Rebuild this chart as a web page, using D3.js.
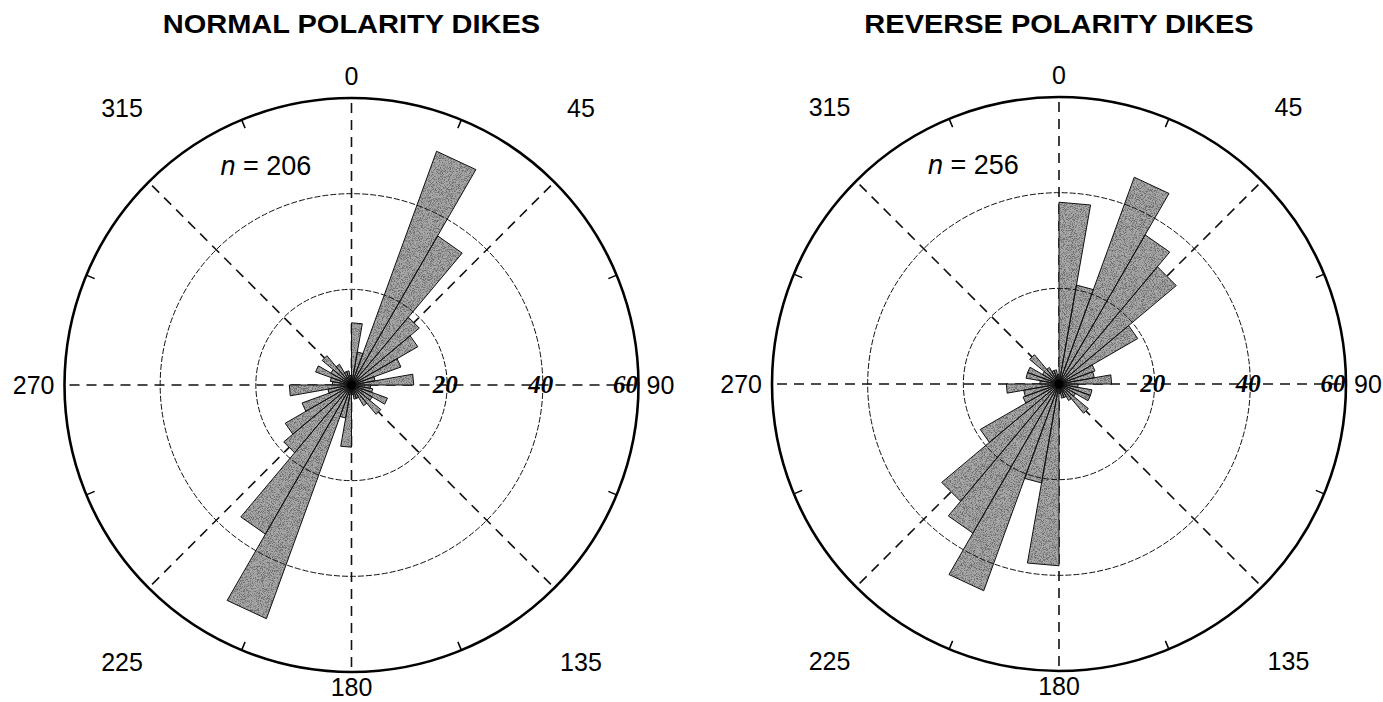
<!DOCTYPE html>
<html>
<head>
<meta charset="utf-8">
<script src="https://cdn.jsdelivr.net/npm/d3@7"></script>
<style>
  html, body { margin: 0; padding: 0; background: #fff; }
  svg { display: block; }
</style>
</head>
<body>
<svg id="chart" width="1383" height="702">
  <defs>
    <!-- fine speckle used to give the petals a stippled grey look -->
    <filter id="speckle" x="0" y="0" width="1" height="1">
      <feTurbulence type="fractalNoise" baseFrequency="1.1" numOctaves="2" seed="7" result="noise"/>
      <feColorMatrix in="noise" type="matrix"
        values="0 0 0 0 0  0 0 0 0 0  0 0 0 0 0  5 0 0 0 -2.3" result="dots"/>
      <feComposite in="dots" in2="SourceAlpha" operator="in"/>
    </filter>
  </defs>
</svg>
<script>
// Dike strikes in 10° bins from 0 to 180. Strikes are axial, so every bin
// is drawn twice: at its own azimuth and at the azimuth + 180°.
const binStarts = d3.range(0, 180, 10);
const binWidth = 10;
const normalCounts  = [13, 7, 52, 36, 18.5, 16, 11, 5, 13, 4, 4.5, 8, 5, 8, 5, 3, 3, 2];
const reverseCounts = [38, 21, 46, 36, 32, 19, 8, 7.5, 11, 4, 7, 7, 4, 8, 4, 3, 3, 2];

const panelTitles = ["NORMAL POLARITY DIKES", "REVERSE POLARITY DIKES"];
const sampleSizes = [206, 256];
const panelCounts = [normalCounts, reverseCounts];

const ringValues = [20, 40, 60];
const compassAngles = [0, 45, 90, 135, 180, 225, 270, 315];
const tickAngles = [22.5, 67.5, 112.5, 157.5, 202.5, 247.5, 292.5, 337.5];

// ---- layout ----
const centers = [[351.5, 385], [1059, 384]];
const R = 287;
const rScale = d3.scaleLinear().domain([0, 60]).range([0, R]);
const rad = d => d * Math.PI / 180;

const svg = d3.select("#chart");

const radial = d3.lineRadial()
  .angle(d => rad(d[0]))
  .radius(d => d[1]);

panelCounts.forEach((counts, i) => {
  const [cx, cy] = centers[i];
  const g = svg.append("g").attr("transform", `translate(${cx},${cy})`);

  // dashed spokes every 45°
  g.append("g").selectAll("path")
    .data(compassAngles)
    .join("path")
    .attr("d", a => radial([[a, 0], [a, R]]))
    .attr("fill", "none")
    .attr("stroke", "#111")
    .attr("stroke-width", 1.6)
    .attr("stroke-dasharray", "10,7");

  // petals: each bin and its antipode
  const petals = [];
  binStarts.forEach((b, k) => {
    petals.push({ a0: b, a1: b + binWidth, v: counts[k] });
    petals.push({ a0: b + 180, a1: b + 180 + binWidth, v: counts[k] });
  });
  const petalPath = p => radial([[p.a0, 0], [p.a0, rScale(p.v)], [p.a1, rScale(p.v)]]) + "Z";

  const petalG = g.append("g");
  petalG.selectAll("path.fill")
    .data(petals)
    .join("path")
    .attr("class", "fill")
    .attr("d", petalPath)
    .attr("fill", "#a8a8a8")
    .attr("stroke", "none");
  petalG.append("g")
    .attr("filter", "url(#speckle)")
    .attr("opacity", 0.35)
    .selectAll("path")
    .data(petals)
    .join("path")
    .attr("d", petalPath)
    .attr("fill", "#000");
  petalG.selectAll("path.edge")
    .data(petals)
    .join("path")
    .attr("class", "edge")
    .attr("d", petalPath)
    .attr("fill", "none")
    .attr("stroke", "#111")
    .attr("stroke-width", 1);

  // inner reference rings
  g.append("g").selectAll("circle")
    .data(ringValues.slice(0, -1))
    .join("circle")
    .attr("r", v => rScale(v))
    .attr("fill", "none")
    .attr("stroke", "#111")
    .attr("stroke-width", 1)
    .attr("stroke-dasharray", "6,2");

  // outer ring
  g.append("circle")
    .attr("r", rScale(ringValues[ringValues.length - 1]))
    .attr("fill", "none")
    .attr("stroke", "#000")
    .attr("stroke-width", 2.6);

  // small inward ticks between spokes
  g.append("g").selectAll("path")
    .data(tickAngles)
    .join("path")
    .attr("d", a => radial([[a, R - 9], [a, R]]))
    .attr("stroke", "#000")
    .attr("stroke-width", 1.5);

  // hub
  g.append("circle").attr("r", 4.5).attr("fill", "#000");

  // ring value labels along the 90° spoke
  g.append("g").selectAll("text")
    .data(ringValues)
    .join("text")
    .attr("x", (v, j) => rScale(v) - (j === ringValues.length - 1 ? 13 : 2))
    .attr("y", 0)
    .attr("dy", "0.33em")
    .attr("text-anchor", "middle")
    .attr("font-family", "'Liberation Serif', 'DejaVu Serif', serif")
    .attr("font-style", "italic")
    .attr("font-weight", "bold")
    .attr("font-size", 25)
    .attr("fill", "#000")
    .text(v => v);

  // compass azimuth labels
  const labelSpec = a => {
    if (a === 0)   return { x: 0, y: -(R + 13), anchor: "middle", dy: "0" };
    if (a === 180) return { x: 0, y: R + 24, anchor: "middle", dy: "0" };
    if (a === 90)  return { x: R + 8, y: 0, anchor: "start", dy: "0.36em" };
    if (a === 270) return { x: -(R + 10), y: 0, anchor: "end", dy: "0.36em" };
    // diagonal labels sit outside the ring, nearer the vertical axis
    const shift = (a === 45 || a === 225) ? -5.4 : 5.4;
    const r = 360;
    return {
      x: Math.sin(rad(a + shift)) * r,
      y: -Math.cos(rad(a + shift)) * r,
      anchor: "middle", dy: "0.36em"
    };
  };
  g.append("g").selectAll("text")
    .data(compassAngles)
    .join("text")
    .attr("x", a => labelSpec(a).x)
    .attr("y", a => labelSpec(a).y)
    .attr("dy", a => labelSpec(a).dy)
    .attr("text-anchor", a => labelSpec(a).anchor)
    .attr("font-family", "'Liberation Sans', Arial, sans-serif")
    .attr("font-size", 25)
    .attr("fill", "#000")
    .text(a => a);

  // sample size
  const nText = g.append("text")
    .attr("x", -131)
    .attr("y", -210)
    .attr("font-family", "'Liberation Sans', Arial, sans-serif")
    .attr("font-size", 27)
    .attr("fill", "#000");
  nText.append("tspan").attr("font-style", "italic").text("n");
  nText.append("tspan").text(" = " + sampleSizes[i]);

  // title
  svg.append("text")
    .attr("transform", `translate(${cx},33) scale(1.16,1)`)
    .attr("text-anchor", "middle")
    .attr("font-family", "'Liberation Sans', Arial, sans-serif")
    .attr("font-weight", "bold")
    .attr("font-size", 25)
    .attr("fill", "#000")
    .text(panelTitles[i]);
});
</script>
</body>
</html>
